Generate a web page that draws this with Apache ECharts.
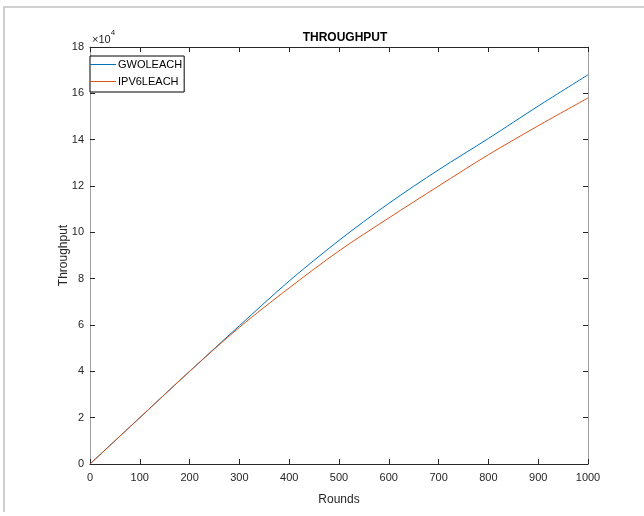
<!DOCTYPE html>
<html>
<head>
<meta charset="utf-8">
<script src="https://cdn.jsdelivr.net/npm/echarts@6/dist/echarts.min.js"></script>
<style>html,body{margin:0;padding:0;background:#fff}#c{width:644px;height:516px}</style>
</head>
<body>
<div id="c"></div>
<script>
const rounds = [0, 100, 200, 300, 400, 500, 600, 700, 800, 900, 1000];
const gwoleach = [0, 20000, 40000, 59700, 79000, 96500, 112500, 127000, 140500, 154500, 168000];
const ipv6leach = [0, 20000, 40000, 59000, 76000, 92000, 106200, 120000, 133500, 146000, 158000];
const xTicks = [0, 100, 200, 300, 400, 500, 600, 700, 800, 900, 1000];
const yTicks = [0, 2, 4, 6, 8, 10, 12, 14, 16, 18];

const FONT = '"Liberation Sans", Arial, Helvetica, sans-serif';
const chart = echarts.init(document.getElementById('c'));
const tick = {inside: true, length: 5, lineStyle: {color: '#262626'}};
const LINE_ICON = 'path://M0,0H52V2H0Z';
chart.setOption({
  animation: false,
  backgroundColor: '#fff',
  title: {
    text: 'THROUGHPUT', left: 340, top: 27, textAlign: 'center',
    textStyle: {fontFamily: FONT, fontSize: 12, fontWeight: 'bold', color: '#000'}
  },
  legend: {
    orient: 'vertical', left: 90, top: 56,
    data: [{name: 'GWOLEACH', icon: LINE_ICON}, {name: 'IPV6LEACH', icon: LINE_ICON}],
    itemWidth: 26, itemHeight: 12, itemGap: 6,
    padding: [3, 2, 5, 0],
    borderColor: '#000', borderWidth: 1, backgroundColor: '#fff', borderRadius: 0,
    textStyle: {fontFamily: FONT, fontSize: 11, color: '#000', padding: [0, 0, 0, -3]}
  },
  grid: {left: 90, right: 56, top: 47, bottom: 52},
  xAxis: [{
    type: 'value', min: 0, max: 1000, interval: 100, position: 'bottom',
    name: 'Rounds', nameLocation: 'middle', nameGap: 30,
    nameTextStyle: {fontFamily: FONT, fontSize: 12, color: '#262626'},
    axisLine: {onZero: false, lineStyle: {color: '#262626', width: 1}},
    axisLabel: {fontFamily: FONT, fontSize: 11, color: '#262626', margin: 8,
      formatter: v => String(v)},
    axisTick: tick, splitLine: {show: false}
  }, {
    type: 'value', min: 0, max: 1000, interval: 100, position: 'top',
    axisLine: {onZero: false, lineStyle: {color: '#262626', width: 1}},
    axisLabel: {show: false},
    axisTick: tick, splitLine: {show: false}
  }],
  yAxis: [{
    type: 'value', min: 0, max: 180000, interval: 20000, position: 'left',
    name: 'Throughput', nameLocation: 'middle', nameGap: 20, nameRotate: 90,
    nameMoveOverlap: false,
    nameTextStyle: {fontFamily: FONT, fontSize: 12, color: '#262626'},
    axisLine: {show: true, onZero: false, lineStyle: {color: '#a0a0a0', width: 1}},
    axisLabel: {fontFamily: FONT, fontSize: 11, color: '#262626', margin: 6,
      formatter: v => String(v / 10000)},
    axisTick: tick, splitLine: {show: false}
  }, {
    type: 'value', min: 0, max: 180000, interval: 20000, position: 'right',
    axisLine: {show: true, onZero: false, lineStyle: {color: '#a0a0a0', width: 1}},
    axisLabel: {show: false},
    axisTick: tick, splitLine: {show: false}
  }],
  graphic: [{
    type: 'text', left: 92, top: 29,
    style: {
      text: '{a|×10}{b|4}', fill: '#262626',
      rich: {
        a: {fontFamily: FONT, fontSize: 11, fill: '#262626', verticalAlign: 'bottom'},
        b: {fontFamily: FONT, fontSize: 8, fill: '#262626', verticalAlign: 'top', padding: [0, 0, 8, 0]}
      }
    }
  }, {
    type: 'polyline', silent: true,
    shape: {points: [[4, 512], [4, 7], [644, 7]]},
    style: {stroke: '#cfcfcf', lineWidth: 2, fill: null}
  }],
  series: [{
    name: 'GWOLEACH', type: 'line', symbol: 'none', smooth: 0.3,
    xAxisIndex: 0, yAxisIndex: 0,
    data: rounds.map((r, i) => [r, gwoleach[i]]),
    lineStyle: {color: '#0072BD', width: 1}, itemStyle: {color: '#0072BD'}
  }, {
    name: 'IPV6LEACH', type: 'line', symbol: 'none', smooth: 0.3,
    xAxisIndex: 0, yAxisIndex: 0,
    data: rounds.map((r, i) => [r, ipv6leach[i]]),
    lineStyle: {color: '#D95319', width: 1}, itemStyle: {color: '#D95319'}
  }]
});
</script>
</body>
</html>
